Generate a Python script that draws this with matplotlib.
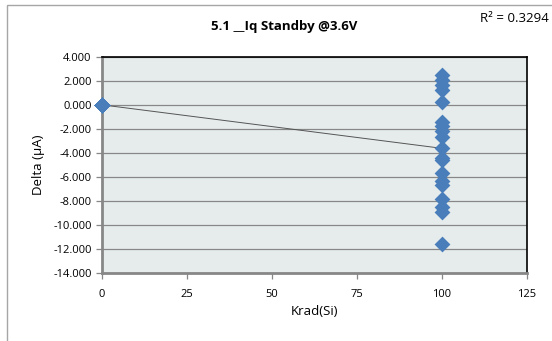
#!/usr/bin/env python3
import numpy as np
import matplotlib.pyplot as plt
from matplotlib.patches import Rectangle

plt.rcParams['font.family'] = ['Open Sans', 'DejaVu Sans']

# dose (Krad(Si)) and delta (uA) per unit
dose = [0, 0, 0, 0, 0, 0, 0, 0, 0, 0, 0, 0, 0, 0, 0, 0, 0, 0, 0,
        100, 100, 100, 100, 100, 100, 100, 100, 100, 100,
        100, 100, 100, 100, 100, 100, 100, 100, 100]
delta = [0.0, 0.0, 0.0, 0.0, 0.0, 0.0, 0.0, 0.0, 0.0, 0.0,
         0.0, 0.0, 0.0, 0.0, 0.0, 0.0, 0.0, 0.0, 0.0,
         2.45, 2.05, 1.65, 1.2, 0.2, -1.4, -1.8, -2.2, -2.7, -3.6,
         -4.4, -4.6, -5.7, -6.3, -6.7, -7.8, -8.5, -8.9, -11.6]

x_ticks = [0, 25, 50, 75, 100, 125]
y_ticks = [4, 2, 0, -2, -4, -6, -8, -10, -12, -14]
title = "5.1 __Iq Standby @3.6V"
r2_text = "R\u00b2 = 0.3294"


def main():
    fig = plt.figure(figsize=(5.52, 3.41), dpi=100)
    W, H = 552, 341

    # outer chart border
    fig.patches.append(Rectangle((6.7 / W, -0.1), 1.2, 1.1 - 5 / H,
                                 transform=fig.transFigure, fill=False,
                                 edgecolor='#a6a6a6', lw=1.0))

    ax = fig.add_axes([102 / W, 1 - 273.3 / H, (526.7 - 102) / W, (273.3 - 56.7) / H])
    ax.set_facecolor('#e6ecec')
    ax.set_xlim(0, 125)
    ax.set_ylim(-14, 4)
    ax.set_xticks(x_ticks)
    ax.set_yticks(y_ticks)
    ax.set_yticklabels([f"{v:.3f}" for v in y_ticks])
    ax.grid(True, axis='y', color='#878787', lw=0.9)
    ax.set_axisbelow(True)

    for s in ['top', 'right']:
        ax.spines[s].set_color('black')
        ax.spines[s].set_linewidth(1.2)
    for s in ['left', 'bottom']:
        ax.spines[s].set_color('#878787')
        ax.spines[s].set_linewidth(2.0)
    ax.tick_params(axis='both', labelsize=8, color='#878787', length=4, width=0.9)
    ax.tick_params(axis='x', pad=7)

    # linear trendline
    x = np.array(dose, dtype=float)
    y = np.array(delta, dtype=float)
    k, b = np.polyfit(x, y, 1)
    xs = np.array([min(dose), max(dose)])
    ax.plot(xs, k * xs + b, color='#555555', lw=0.7, zorder=2)

    ax.scatter(dose, delta, marker='D', s=65, color='#4a7ebb', zorder=3,
               clip_on=False, linewidths=0)

    ax.set_xlabel('Krad(Si)', fontsize=9.5, labelpad=4)
    ax.set_ylabel('Delta (\u00b5A)', fontsize=9.5, labelpad=6)

    fig.text(284 / W, 1 - 26.5 / H, title, fontsize=9.5, fontweight='bold',
             ha='center', va='center')
    fig.text(549 / W, 1 - 18 / H, r2_text, fontsize=9.5, ha='right', va='center')

    fig.savefig('out.png', dpi=100)
    plt.close(fig)


if __name__ == "__main__":
    main()
